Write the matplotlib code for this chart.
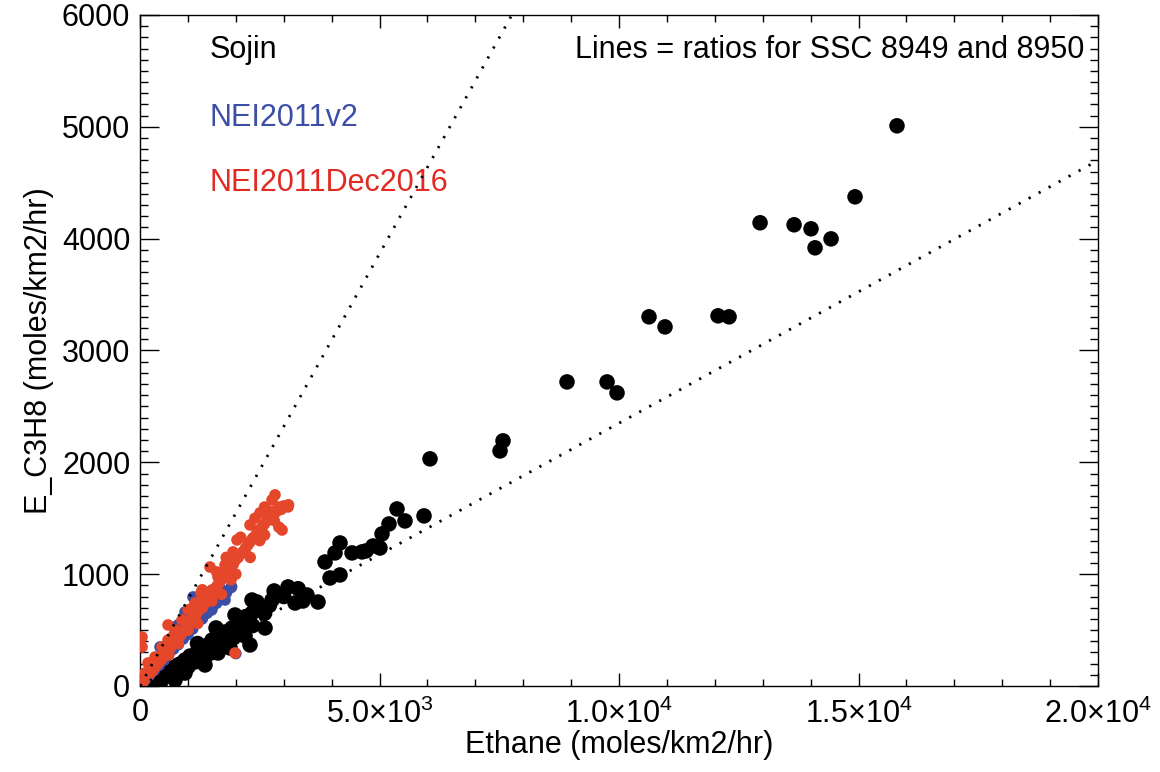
import numpy as np
import matplotlib
matplotlib.use("Agg")
import matplotlib.pyplot as plt
from matplotlib.ticker import MultipleLocator, FixedLocator, FixedFormatter

plt.rcParams['font.family'] = ['Liberation Sans', 'DejaVu Sans']
plt.rcParams['mathtext.fontset'] = 'custom'
plt.rcParams['mathtext.rm'] = 'Liberation Sans'
plt.rcParams['mathtext.it'] = 'Liberation Sans:italic'

# Sojin inventory (black)
sojin_x = [167, 251, 376, 459, 585, 668, 793, 877, 939, 1044, 1148, 1211, 1315, 1420,
           1503, 1566, 1670, 1775, 1837, 1921, 2025, 2088, 2192, 2255, 2338, 2443, 2610,
           2756, 2881, 3090, 3236, 3486, 3716, 3862, 3967, 4071, 4175, 4175, 4426, 4634,
           4718, 4864, 5010, 5052, 5198, 5365, 5532, 5929, 6054, 7516, 7578, 8914, 9750,
           9958, 10626, 10960, 12067, 12297, 12944, 13654, 14008, 14092, 14426, 14927, 15803,
           1587, 1983, 2338, 939, 1628, 2296, 1357, 1879, 418, 731, 80, 300,
           450, 550, 650, 750, 850, 1000, 1100, 1250, 1350, 1450, 1600, 1700, 1800,
           1950, 2100, 2200, 2350, 2500, 2600, 2700, 2800, 3000, 3300, 3400, 200, 1200]
sojin_y = [27, 54, 72, 125, 98, 161, 188, 143, 233, 268, 215, 322, 277, 367,
           411, 322, 429, 483, 394, 519, 474, 572, 447, 564, 653, 751, 519,
           769, 814, 886, 742, 814, 751, 1109, 966, 1190, 993, 1279, 1190, 1199,
           1208, 1252, 1234, 1360, 1449, 1583, 1476, 1521, 2031, 2102, 2192, 2719, 2719,
           2621, 3301, 3211, 3310, 3301, 4142, 4124, 4088, 3918, 3998, 4374, 5009,
           519, 635, 769, 116, 295, 367, 188, 340, 18, 54, 10, 30,
           60, 140, 110, 130, 200, 170, 260, 230, 330, 290, 380, 360, 460,
           430, 500, 620, 540, 700, 650, 720, 850, 800, 870, 760, 15, 380]

# NEI2011v2 (blue)
nei_v2_x = [100, 200, 300, 400, 500, 600, 700, 800, 900, 1000, 1100, 1200, 1300, 1400,
            1500, 1600, 1700, 1800, 1900, 1913, 1775, 1706, 1497, 1106, 1184, 939, 793,
            418, 2000]
nei_v2_y = [50, 95, 140, 185, 230, 280, 330, 370, 420, 460, 510, 560, 600, 650,
            690, 740, 790, 830, 880, 888, 769, 859, 680, 796, 725, 662, 546,
            349, 290]

# NEI2011Dec2016 (red)
nei_dec_x = [50, 100, 150, 200, 250, 300, 350, 400, 450, 500, 550, 600, 650, 700, 750,
             800, 850, 900, 950, 1000, 1050, 1100, 1150, 1200, 1250, 1300, 1350, 1400,
             1450, 1500, 1550, 1600, 1650, 1700, 1750, 1800, 1850, 1900, 1950, 2000, 2050,
             2100, 2150, 2200, 2250, 2300, 2350, 2400, 2450, 2500, 2550, 2600, 2650, 2700,
             2750, 2800, 2850, 2900, 2950, 3000, 3100,
             600, 1000, 1500, 2000, 2500, 2900, 2965,
             2818, 3090, 2756, 2505, 2296, 2025, 1942, 1461, 1775, 1628, 1503, 1294,
             2192, 1921, 1273, 1148, 1002, 585, 877, 731, 585, 459, 313, 167, 104, 42,
             42, 42, 1983,
             400, 700, 1100, 1300, 1600, 1800, 2100, 2400, 2600, 2700, 2800, 2600, 2300,
             1900, 1700, 1200, 800]
nei_dec_y = [30, 60, 85, 110, 130, 165, 190, 215, 240, 265, 300, 320, 350, 380, 400,
             430, 455, 490, 510, 540, 570, 600, 620, 660, 690, 700, 740, 780,
             800, 820, 860, 890, 920, 950, 980, 1010, 1040, 1060, 1090, 1130, 1150,
             1180, 1200, 1230, 1260, 1290, 1320, 1340, 1380, 1400, 1420, 1450, 1480, 1500,
             1530, 1560, 1560, 1600, 1580, 1610, 1620,
             280, 500, 760, 1000, 1300, 1420, 1395,
             1709, 1601, 1664, 1548, 1440, 1306, 1199, 1064, 1082, 975, 859, 814,
             1217, 1154, 832, 742, 680, 546, 590, 501, 411, 349, 259, 206, 116, 27,
             438, 349, 295,
             260, 450, 700, 860, 1020, 1150, 1330, 1500, 1600, 1560, 1480, 1350, 1150,
             950, 820, 560, 380]

# C3H8/ethane ratios for SSC 8949 and 8950
ratios = [0.773, 0.235]

fig = plt.figure(figsize=(11.6, 7.72), dpi=100)
ax = fig.add_axes([0.1207, 0.1114, 0.8259, 0.8692])

ax.scatter(sojin_x, sojin_y, s=125, c='black', edgecolors='none', zorder=2)
ax.scatter(nei_v2_x, nei_v2_y, s=70, c='#3d4ea6', edgecolors='none', zorder=3)
ax.scatter(nei_dec_x, nei_dec_y, s=70, c='#e4472a', edgecolors='none', zorder=4)

for r in ratios:
    ax.axline((0, 0), slope=r, color='black', lw=2.0, linestyle=(0, (0.8, 3.3)), zorder=5)

ax.set_xlim(0, 20000)
ax.set_ylim(0, 6000)

fs = 22
ax.xaxis.set_major_locator(FixedLocator([0, 5000, 10000, 15000, 20000]))
ax.xaxis.set_major_formatter(FixedFormatter(['0', r'5.0$\times$10$^3$', r'1.0$\times$10$^4$',
                                             r'1.5$\times$10$^4$', r'2.0$\times$10$^4$']))
ax.xaxis.set_minor_locator(MultipleLocator(1000))
ax.yaxis.set_major_locator(MultipleLocator(1000))
ax.yaxis.set_minor_locator(MultipleLocator(100))

ax.tick_params(which='both', direction='in', top=True, right=True, labelsize=fs, width=1)
ax.tick_params(axis='x', which='major', length=9.5, pad=9)
ax.tick_params(axis='x', which='minor', length=4.8)
ax.tick_params(axis='y', which='major', length=13.5, pad=7)
ax.tick_params(axis='y', which='minor', length=5.8)
for sp in ax.spines.values():
    sp.set_linewidth(1)

ax.set_xlabel('Ethane (moles/km2/hr)', fontsize=fs, labelpad=0)
ax.set_ylabel('E_C3H8 (moles/km2/hr)', fontsize=fs, labelpad=6)

ax.text(0.073, 0.948, 'Sojin', transform=ax.transAxes, fontsize=fs, color='black', va='center')
ax.text(0.073, 0.8465, 'NEI2011v2', transform=ax.transAxes, fontsize=fs, color='#3d4ea6', va='center')
ax.text(0.073, 0.7496, 'NEI2011Dec2016', transform=ax.transAxes, fontsize=fs, color='#e02a22', va='center')
ax.text(0.986, 0.948, 'Lines = ratios for SSC 8949 and 8950', transform=ax.transAxes,
        fontsize=fs, color='black', va='center', ha='right')

fig.savefig('out.png', dpi=100)
